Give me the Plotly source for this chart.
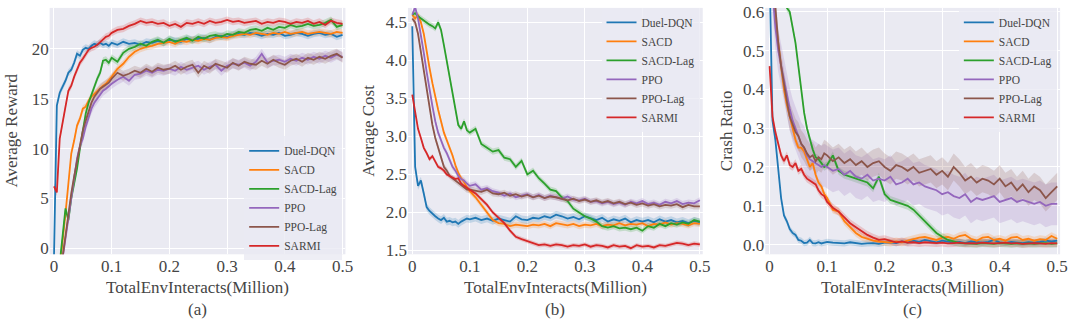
import plotly.graph_objects as go

# ---------------- data ----------------
X = [0, 0.005, 0.01, 0.015, 0.02, 0.025, 0.03, 0.035, 0.04, 0.045, 0.05,
     0.055, 0.06, 0.065, 0.07, 0.075, 0.08, 0.085, 0.09, 0.095, 0.1,
     0.11, 0.12, 0.13, 0.14, 0.15, 0.16, 0.17, 0.18, 0.19, 0.2,
     0.21, 0.22, 0.23, 0.24, 0.25, 0.26, 0.27, 0.28, 0.29, 0.3,
     0.31, 0.32, 0.33, 0.34, 0.35, 0.36, 0.37, 0.38, 0.39, 0.4,
     0.41, 0.42, 0.43, 0.44, 0.45, 0.46, 0.47, 0.48, 0.49, 0.5]

methods = ["Duel-DQN", "SACD", "SACD-Lag", "PPO", "PPO-Lag", "SARMI"]
colors = ["#1f77b4", "#ff7f0e", "#2ca02c", "#9467bd", "#8c564b", "#d62728"]

x_tickvals = [0, 0.1, 0.2, 0.3, 0.4, 0.5]
x_ticktext = ["0", "0.1", "0.2", "0.3", "0.4", "0.5"]

# (a) Average Reward
reward_dqn = [-1, 14.3, 15.6, 16.2, 16.8, 17.6, 17.9, 18.6, 19.5, 19.3, 19.9,
              20.1, 20.0, 20.3, 20.5, 20.4, 20.6, 20.4, 20.5, 20.3, 20.6,
              20.4, 20.7, 20.5, 20.6, 20.4, 20.7, 20.6, 20.8, 20.6, 20.9,
              20.8, 20.7, 21.0, 20.9, 21.0, 21.1, 20.9, 21.2, 21.3, 21.2,
              21.4, 21.5, 21.4, 21.6, 21.5, 21.3, 21.5, 21.4, 21.6, 21.3,
              21.4, 21.6, 21.5, 21.3, 21.5, 21.6, 21.4, 21.5, 21.2, 21.4]
reward_sacd = [-3, -3, -2, 0.5, 3.5, 6.5, 9.5, 10.8, 12.3, 13.0, 14.0,
               14.2, 14.8, 15.2, 15.5, 15.8, 16.1, 16.3, 16.5, 16.8, 17.2,
               18.0, 18.5, 19.2, 19.7, 20.0, 20.2, 20.3, 20.5, 20.6, 20.7,
               20.5, 20.8, 20.7, 20.9, 20.8, 21.0, 20.9, 21.1, 21.2, 21.1,
               21.3, 21.4, 21.5, 21.4, 21.6, 21.5, 21.4, 21.6, 21.5, 21.7,
               21.5, 21.6, 21.7, 21.5, 21.6, 21.7, 21.6, 21.5, 21.7, 21.6]
reward_sacdlag = [-3, -3, -1.5, 1.5, 4.0, 2.8, 5.0, 6.5, 8.0, 10.0, 12.0,
                  13.5, 14.6, 15.5, 16.2, 17.0, 17.6, 18.8, 18.9, 18.6, 19.1,
                  18.7, 19.6, 20.0, 20.2, 20.5, 20.3, 20.7, 20.9, 20.6, 21.0,
                  20.7, 20.9, 21.1, 20.8, 21.2, 21.0, 21.3, 21.4, 21.2, 21.5,
                  21.4, 21.7, 21.6, 21.9, 22.0, 21.8, 22.1, 21.9, 22.2, 22.1,
                  22.4, 22.2, 22.3, 22.5, 22.3, 22.4, 22.6, 22.9, 22.2, 22.4]
reward_ppo = [-4, -4, -3, -1, 1.0, 3.0, 5.5, 7.5, 9.0, 10.2, 11.0,
              12.2, 13.2, 14.0, 14.6, 15.0, 15.4, 15.8, 16.0, 16.3, 16.5,
              16.9, 17.2, 16.8, 17.4, 17.5, 17.8, 17.6, 17.9, 17.8, 18.0,
              17.8, 18.2, 17.9, 18.1, 18.3, 17.9, 18.2, 18.4, 17.8, 18.3,
              18.5, 18.4, 18.6, 18.3, 18.7, 19.5, 18.6, 18.8, 18.9, 18.7,
              19.0, 18.8, 19.1, 18.9, 19.2, 19.0, 19.3, 19.1, 19.4, 19.2]
reward_ppolag = [-4, -4, -3, -0.8, 1.5, 3.5, 5.5, 7.2, 8.8, 10.3, 11.8,
                 12.8, 13.8, 14.6, 15.2, 15.6, 16.0, 16.2, 16.4, 16.6, 17.0,
                 17.6, 17.3, 17.5, 17.8, 17.6, 18.0, 17.7, 18.1, 17.9, 18.0,
                 18.3, 17.9, 18.2, 18.4, 17.6, 18.3, 18.0, 18.5, 18.3, 18.1,
                 18.6, 18.3, 18.7, 18.5, 18.4, 18.8, 18.5, 18.9, 18.6, 18.4,
                 18.8, 19.0, 18.7, 19.1, 18.9, 19.2, 19.0, 19.3, 19.5, 19.1]
reward_sarmi = [6.2, 5.6, 11.0, 12.8, 14.2, 15.8, 16.3, 17.2, 18.0, 18.6, 19.0,
                19.5, 19.9, 20.1, 20.2, 20.4, 20.7, 21.0, 21.2, 21.3, 21.6,
                21.9, 22.0, 22.3, 22.5, 22.8, 22.6, 22.7, 22.5, 22.6, 22.3,
                22.5, 22.2, 22.6, 22.5, 22.7, 22.5, 22.8, 22.6, 22.7, 22.9,
                22.7, 22.8, 22.6, 22.7, 22.8, 22.5, 22.7, 22.6, 22.8, 22.7,
                22.5, 22.7, 22.6, 22.8, 22.5, 22.7, 22.4, 22.8, 22.6, 22.5]

# (b) Average Cost
cost_dqn = [4.45, 2.6, 2.35, 2.42, 2.25, 2.07, 2.02, 1.98, 1.95, 1.92, 1.9,
            1.93, 1.88, 1.89, 1.87, 1.88, 1.85, 1.88, 1.9, 1.92, 1.91,
            1.93, 1.9, 1.92, 1.89, 1.92, 1.9, 1.88, 1.95, 1.91, 1.9,
            1.93, 1.92, 1.95, 1.93, 1.97, 1.95, 1.92, 1.94, 1.91, 1.95,
            1.92, 1.9, 1.93, 1.88, 1.91, 1.89, 1.92, 1.87, 1.9, 1.88,
            1.9, 1.87, 1.91, 1.88, 1.9, 1.87, 1.89, 1.86, 1.89, 1.87]
cost_sacd = [4.6, 4.55, 4.6, 4.5, 4.35, 4.1, 3.9, 3.7, 3.5, 3.35, 3.2,
             3.05, 2.95, 2.85, 2.75, 2.62, 2.52, 2.45, 2.4, 2.33, 2.28,
             2.2, 2.1, 2.0, 1.9, 1.86, 1.85, 1.82, 1.84, 1.83, 1.82,
             1.84, 1.83, 1.85, 1.82, 1.86, 1.84, 1.83, 1.85, 1.82, 1.84,
             1.83, 1.85, 1.82, 1.84, 1.83, 1.86, 1.83, 1.85, 1.84, 1.86,
             1.82, 1.85, 1.84, 1.87, 1.84, 1.86, 1.85, 1.83, 1.86, 1.85]
cost_sacdlag = [4.6, 4.62, 4.58, 4.55, 4.52, 4.5, 4.47, 4.45, 4.42, 4.5, 4.4,
                4.2, 4.0, 3.8, 3.6, 3.35, 3.15, 3.1, 3.2, 3.08, 3.05,
                3.1, 2.9, 2.85, 2.8, 2.82, 2.72, 2.7, 2.6, 2.68, 2.5,
                2.55, 2.45, 2.38, 2.3, 2.28, 2.2, 2.15, 2.05, 2.0, 1.95,
                1.92, 1.88, 1.82, 1.8, 1.82, 1.79, 1.8, 1.78, 1.8, 1.76,
                1.82, 1.8, 1.85, 1.82, 1.86, 1.84, 1.87, 1.85, 1.9, 1.88]
cost_ppo = [4.6, 4.7, 4.55, 4.35, 4.1, 3.85, 3.6, 3.4, 3.2, 3.05, 2.95,
            2.85, 2.78, 2.68, 2.6, 2.55, 2.48, 2.44, 2.42, 2.38, 2.35,
            2.37, 2.3, 2.32, 2.28, 2.26, 2.22, 2.25, 2.2, 2.22, 2.24,
            2.2, 2.23, 2.19, 2.22, 2.2, 2.18, 2.21, 2.17, 2.16, 2.18,
            2.14, 2.15, 2.12, 2.14, 2.11, 2.13, 2.1, 2.14, 2.12, 2.15,
            2.11, 2.13, 2.1, 2.14, 2.12, 2.15, 2.11, 2.13, 2.12, 2.16]
cost_ppolag = [4.55, 4.5, 4.35, 4.1, 3.85, 3.6, 3.35, 3.15, 2.98, 2.85, 2.72,
               2.6, 2.55, 2.48, 2.45, 2.42, 2.38, 2.36, 2.33, 2.3, 2.3,
               2.28, 2.27, 2.3, 2.25, 2.24, 2.26, 2.22, 2.24, 2.21, 2.23,
               2.2, 2.22, 2.19, 2.21, 2.2, 2.18, 2.16, 2.18, 2.15, 2.17,
               2.14, 2.16, 2.13, 2.15, 2.12, 2.14, 2.11, 2.13, 2.1, 2.12,
               2.09, 2.11, 2.08, 2.1, 2.09, 2.11, 2.07, 2.1, 2.08, 2.08]
cost_sarmi = [3.55, 3.3, 3.1, 2.98, 2.85, 2.78, 2.7, 2.74, 2.66, 2.6, 2.58,
              2.55, 2.5, 2.48, 2.47, 2.44, 2.45, 2.38, 2.35, 2.33, 2.3,
              2.25, 2.18, 2.1, 2.0, 1.93, 1.86, 1.76, 1.68, 1.65, 1.62,
              1.6, 1.57, 1.58, 1.56, 1.58, 1.57, 1.55, 1.57, 1.56, 1.58,
              1.55, 1.57, 1.56, 1.54, 1.57, 1.55, 1.56, 1.53, 1.57, 1.55,
              1.56, 1.54, 1.57, 1.56, 1.58, 1.6, 1.59, 1.57, 1.59, 1.58]

# (c) Crash Ratio
crash_dqn = [0.7, 0.32, 0.27, 0.2, 0.12, 0.075, 0.06, 0.04, 0.03, 0.025, 0.012,
             0.01, 0.004, 0.005, 0.012, 0.004, 0.003, 0.006, 0.003, 0.005, 0.007,
             0.005, 0.004, 0.003, 0.006, 0.004, 0.002, 0.003, 0.004, 0.002, 0.005,
             0.006, 0.004, 0.008, 0.005, 0.01, 0.007, 0.012, 0.009, 0.006, 0.01,
             0.008, 0.005, 0.007, 0.004, 0.008, 0.006, 0.005, 0.007, 0.012, 0.006,
             0.004, 0.007, 0.005, 0.004, 0.006, 0.005, 0.007, 0.01, 0.008, 0.01]
crash_sacd = [0.75, 0.68, 0.58, 0.52, 0.46, 0.4, 0.36, 0.33, 0.3, 0.27, 0.25,
              0.25, 0.24, 0.22, 0.2, 0.21, 0.18, 0.16, 0.15, 0.13, 0.12,
              0.09, 0.085, 0.06, 0.045, 0.03, 0.02, 0.015, 0.01, 0.008, 0.006,
              0.005, 0.008, 0.006, 0.01, 0.015, 0.018, 0.02, 0.015, 0.012, 0.018,
              0.02, 0.015, 0.022, 0.025, 0.015, 0.01, 0.018, 0.02, 0.012, 0.015,
              0.01, 0.018, 0.02, 0.012, 0.015, 0.01, 0.014, 0.012, 0.022, 0.015]
crash_sacdlag = [0.9, 0.85, 0.8, 0.75, 0.7, 0.65, 0.61, 0.6, 0.56, 0.52, 0.46,
                 0.4, 0.34, 0.3, 0.27, 0.245, 0.225, 0.22, 0.21, 0.2, 0.205,
                 0.23, 0.19, 0.18, 0.175, 0.17, 0.165, 0.16, 0.145, 0.175, 0.13,
                 0.115, 0.11, 0.105, 0.1, 0.09, 0.075, 0.06, 0.045, 0.03, 0.02,
                 0.012, 0.008, 0.004, 0.003, 0.003, 0.002, 0.004, 0.003, 0.002, 0.004,
                 0.003, 0.002, 0.003, 0.002, 0.003, 0.002, 0.003, 0.004, 0.002, 0.003]
crash_ppo = [0.75, 0.65, 0.56, 0.5, 0.46, 0.42, 0.38, 0.35, 0.32, 0.3, 0.28,
             0.26, 0.25, 0.23, 0.22, 0.215, 0.21, 0.205, 0.2, 0.205, 0.2,
             0.19, 0.195, 0.18, 0.19, 0.175, 0.17, 0.18, 0.165, 0.17, 0.165,
             0.175, 0.155, 0.16, 0.17, 0.155, 0.16, 0.15, 0.145, 0.14, 0.13,
             0.135, 0.125, 0.12, 0.13, 0.11, 0.12, 0.115, 0.12, 0.125, 0.11,
             0.115, 0.12, 0.11, 0.115, 0.11, 0.105, 0.11, 0.1, 0.105, 0.105]
crash_ppolag = [0.8, 0.7, 0.6, 0.52, 0.46, 0.41, 0.37, 0.33, 0.31, 0.29, 0.28,
                0.26, 0.25, 0.235, 0.225, 0.23, 0.215, 0.225, 0.22, 0.235, 0.23,
                0.215, 0.225, 0.21, 0.22, 0.205, 0.215, 0.2, 0.21, 0.215, 0.2,
                0.19, 0.205, 0.2, 0.19, 0.2, 0.185, 0.19, 0.195, 0.18, 0.19,
                0.175, 0.2, 0.185, 0.165, 0.175, 0.16, 0.17, 0.165, 0.155, 0.17,
                0.15, 0.16, 0.14, 0.155, 0.135, 0.15, 0.14, 0.12, 0.135, 0.15]
crash_sarmi = [0.46, 0.33, 0.29, 0.26, 0.23, 0.215, 0.23, 0.205, 0.2, 0.21, 0.19,
               0.195, 0.18, 0.17, 0.165, 0.16, 0.155, 0.14, 0.13, 0.125, 0.11,
               0.095, 0.085, 0.07, 0.055, 0.045, 0.035, 0.025, 0.018, 0.012, 0.014,
               0.01, 0.006, 0.008, 0.005, 0.006, 0.004, 0.006, 0.005, 0.004, 0.005,
               0.003, 0.004, 0.005, 0.003, 0.004, 0.003, 0.005, 0.004, 0.003, 0.004,
               0.005, 0.003, 0.004, 0.002, 0.003, 0.004, 0.003, 0.002, 0.004, 0.003]

# shaded spread (half-width) per method
reward_spread = [0.35, 0.35, 0.35, 0.5, 0.5, 0.35]
cost_spread = [0.05, 0.04, 0.04, 0.04, 0.04, 0.03]
crash_spread = [0.008, 0.01, 0.01, 0.055, 0.035, 0.01]

reward_series = [reward_dqn, reward_sacd, reward_sacdlag, reward_ppo, reward_ppolag, reward_sarmi]
cost_series = [cost_dqn, cost_sacd, cost_sacdlag, cost_ppo, cost_ppolag, cost_sarmi]
crash_series = [crash_dqn, crash_sacd, crash_sacdlag, crash_ppo, crash_ppolag, crash_sarmi]

# ---------------- figure ----------------
W, H = 1080, 326
FONT = "Liberation Serif, Times New Roman, Times, serif"
TXT = "#454545"
BG = "#EAEAF2"


def rgba(hexc, a):
    h = hexc.lstrip("#")
    return "rgba(%d,%d,%d,%.2f)" % (int(h[0:2], 16), int(h[2:4], 16), int(h[4:6], 16), a)


fig = go.Figure()

panels = [
    (reward_series, reward_spread, "x", "y", "legend"),
    (cost_series, cost_spread, "x2", "y2", "legend2"),
    (crash_series, crash_spread, "x3", "y3", "legend3"),
]

for series, spread, xa, ya, lg in panels:
    for name, col, ys, s in zip(methods, colors, series, spread):
        upper = [v + s for v in ys]
        lower = [v - s for v in ys]
        fig.add_trace(go.Scatter(x=X, y=lower, xaxis=xa, yaxis=ya, mode="lines",
                                 line=dict(width=0), hoverinfo="skip", showlegend=False,
                                 legend=lg))
        fig.add_trace(go.Scatter(x=X, y=upper, xaxis=xa, yaxis=ya, mode="lines",
                                 line=dict(width=0), fill="tonexty",
                                 fillcolor=rgba(col, 0.2), hoverinfo="skip", showlegend=False,
                                 legend=lg))
    for name, col, ys in zip(methods, colors, series):
        fig.add_trace(go.Scatter(x=X, y=ys, xaxis=xa, yaxis=ya, mode="lines", name=name,
                                 line=dict(color=col, width=1.8), legend=lg))

# pixel layout
px_dom = [(50, 348), (411, 708), (771, 1068)]
y_dom = [(H - 258) / H, (H - 3) / H]

axis_common = dict(showgrid=True, gridcolor="white", gridwidth=1, zeroline=False,
                   showline=False, ticks="", ticklabeloverflow="allow",
                   tickfont=dict(family=FONT, size=17, color=TXT))

x_range = [-0.0075, 0.505]
y_ranges = [[-0.6, 24.1], [1.45, 4.69], [-0.025, 0.61]]
y_ticks = [
    ([0, 5, 10, 15, 20], ["0", "5", "10", "15", "20"]),
    ([1.5, 2.0, 2.5, 3.0, 3.5, 4.0, 4.5], ["1.5", "2.0", "2.5", "3.0", "3.5", "4.0", "4.5"]),
    ([0, 0.1, 0.2, 0.3, 0.4, 0.5, 0.6], ["0.0", "0.1", "0.2", "0.3", "0.4", "0.5", "0.6"]),
]

lay = dict(width=W, height=H, margin=dict(l=0, r=0, t=0, b=0),
           paper_bgcolor="white", plot_bgcolor=BG, font=dict(family=FONT, color=TXT),
           showlegend=True)

for i in range(3):
    sfx = "" if i == 0 else str(i + 1)
    d = [px_dom[i][0] / W, px_dom[i][1] / W]
    lay["xaxis" + sfx] = dict(domain=d, range=x_range, anchor="y" + sfx,
                              tickvals=x_tickvals, ticktext=x_ticktext, **axis_common)
    lay["yaxis" + sfx] = dict(domain=y_dom, range=y_ranges[i], anchor="x" + sfx,
                              tickvals=y_ticks[i][0], ticktext=y_ticks[i][1], **axis_common)

leg_common = dict(font=dict(family=FONT, size=11.5, color=TXT), bgcolor="rgba(234,234,242,0.8)",
                  borderwidth=0, xanchor="left", yanchor="top", itemwidth=30,
                  traceorder="normal")
lay["legend"] = dict(x=246 / W, y=(H - 136) / H, **leg_common)
lay["legend2"] = dict(x=(360 + 246) / W, y=(H - 3) / H, **leg_common)
lay["legend3"] = dict(x=(720 + 246) / W, y=(H - 3) / H, **leg_common)

fig.update_layout(**lay)

# axis titles and panel labels
ytitles = ["Average Reward", "Average Cost", "Crash Ratio"]
ytitle_x = [12, 371, 732]
labels = ["(a)", "(b)", "(c)"]
for i in range(3):
    cx = (px_dom[i][0] + px_dom[i][1]) / 2 / W
    fig.add_annotation(x=cx, y=(H - 292) / H, xref="paper", yref="paper",
                       text="TotalEnvInteracts(Million)", showarrow=False,
                       font=dict(family=FONT, size=17, color=TXT), xanchor="center", yanchor="middle")
    fig.add_annotation(x=cx, y=(H - 315) / H, xref="paper", yref="paper",
                       text=labels[i], showarrow=False,
                       font=dict(family=FONT, size=17, color=TXT), xanchor="center", yanchor="middle")
    fig.add_annotation(x=ytitle_x[i] / W, y=(H - 130) / H, xref="paper", yref="paper",
                       text=ytitles[i], showarrow=False, textangle=-90,
                       font=dict(family=FONT, size=17, color=TXT), xanchor="center", yanchor="middle")

fig.write_html("out.html")
